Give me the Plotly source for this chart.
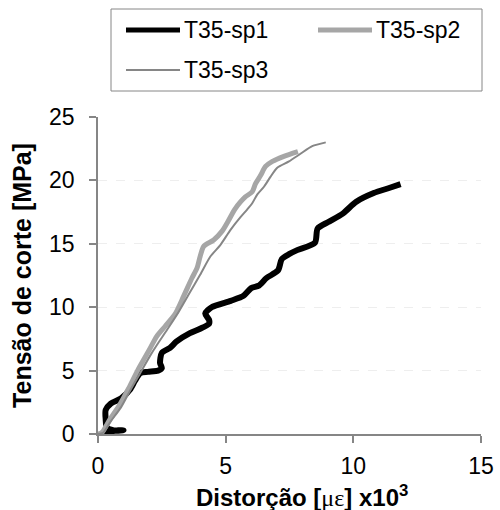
import plotly.graph_objects as go

# ---- data ----
sp1_x = [0.1, 0.4, 0.8, 1.0, 0.7, 0.35, 0.3, 0.3, 0.5, 0.9, 1.25, 1.45, 1.65, 1.95, 2.35, 2.5, 2.43,
         2.5, 2.82, 3.08, 3.6, 4.0, 4.35, 4.35, 4.2, 4.45, 5.2, 5.7, 6.0, 6.3, 6.6, 7.05, 7.2, 7.5,
         7.8, 8.5, 8.6, 9.0, 9.6, 10.1, 10.8, 11.4, 11.85]
sp1_y = [0.0, 0.15, 0.3, 0.3, 0.25, 0.5, 1.2, 1.9, 2.4, 2.8, 3.5, 4.2, 4.8, 4.9, 5.0, 5.2, 5.6,
         6.4, 6.8, 7.3, 7.95, 8.3, 8.7, 9.0, 9.5, 10.0, 10.5, 10.9, 11.5, 11.7, 12.3, 12.9, 13.8, 14.2,
         14.5, 15.1, 16.2, 16.7, 17.4, 18.3, 19.0, 19.4, 19.7]

sp2_x = [0.0, 0.15, 0.45, 0.85, 1.2, 1.55, 2.0, 2.3, 2.63, 3.03, 3.35, 3.68, 3.88, 4.0, 4.14, 4.53,
         4.86, 5.1, 5.35, 5.58, 5.77, 6.04, 6.17, 6.37, 6.56, 6.83, 7.28, 7.83]
sp2_y = [0.0, 0.1, 1.1, 2.3, 3.6, 5.0, 6.6, 7.7, 8.5, 9.5, 10.85, 12.3, 13.1, 14.0, 14.8, 15.3,
         16.0, 16.8, 17.7, 18.3, 18.7, 19.1, 19.75, 20.4, 21.1, 21.5, 21.9, 22.27]

sp3_x = [0.0, 0.2, 0.5, 0.9, 1.25, 1.65, 2.05, 2.3, 2.7, 3.09, 3.55, 4.0, 4.4, 4.79, 5.19, 5.58,
         5.84, 6.04, 6.24, 6.5, 6.76, 7.02, 7.48, 7.93, 8.39, 8.92]
sp3_y = [0.0, 0.1, 1.0, 2.1, 3.4, 4.8, 6.2, 7.0, 8.2, 9.4, 11.0, 12.55, 14.0, 14.9, 16.1, 17.1,
         17.7, 18.2, 18.9, 19.5, 20.3, 21.0, 21.5, 22.1, 22.7, 23.0]

series_names = ["T35-sp1", "T35-sp2", "T35-sp3"]
x_ticks = [0, 5, 10, 15]
y_ticks = [0, 5, 10, 15, 20, 25]
x_title = "Distorção [<span style=\"font-family:'Liberation Serif';font-weight:normal\">με</span>] x10<sup>3</sup>"
y_title = "Tensão de corte [MPa]"

colors = ["#000000", "#A6A6A6", "#868686"]
widths = [6, 5, 2]
FONT = "Liberation Sans, Arial, sans-serif"
AXIS = "#868686"

fig = go.Figure()
for name, xs, ys, c, w in zip(series_names, [sp1_x, sp2_x, sp3_x], [sp1_y, sp2_y, sp3_y], colors, widths):
    fig.add_trace(go.Scatter(x=xs, y=ys, mode="lines", name=name, showlegend=False,
                             line=dict(color=c, width=w, shape="spline", smoothing=0.7)))

fig.update_layout(
    width=500, height=510,
    margin=dict(l=98, r=19, t=117, b=76),
    paper_bgcolor="white", plot_bgcolor="white",
    font=dict(family=FONT, size=22, color="black"),
)
fig.update_xaxes(range=[0, 15], tickvals=x_ticks, showgrid=False, zeroline=False,
                 showline=True, linecolor=AXIS, linewidth=1.5, automargin=False,
                 ticks="outside", ticklen=7, tickcolor=AXIS, tickwidth=1.5,
                 tickfont=dict(size=23), ticklabelstandoff=4)
fig.update_yaxes(range=[0, 25], tickvals=y_ticks, showgrid=True, gridcolor="#EEEEEE",
                 griddash="dash", gridwidth=1, zeroline=False,
                 showline=True, linecolor=AXIS, linewidth=1.5, automargin=False,
                 ticks="outside", ticklen=7, tickcolor=AXIS, tickwidth=1.5,
                 tickfont=dict(size=23), ticklabelstandoff=10,
                 title=dict(text=y_title, font=dict(size=25, weight="bold"), standoff=10))

# ---- helpers: pixel position -> paper coordinates ----
def px_x(p):
    return (p - 98) / 383.0

def px_y(p):
    return (434 - p) / 317.0

# x-axis title (placed as annotation for exact position)
fig.add_annotation(xref="paper", yref="paper", x=px_x(302), y=px_y(496),
                   xanchor="center", yanchor="middle", showarrow=False,
                   text=x_title, font=dict(size=24, weight="bold", color="black", family=FONT))

# ---- manual legend box ----
fig.add_shape(type="rect", xref="paper", yref="paper",
              x0=px_x(111), x1=px_x(482), y0=px_y(91), y1=px_y(9),
              line=dict(color=AXIS, width=1), fillcolor="white", layer="above")
legend_pos = [(126, 30), (318, 30), (126, 70)]
leg_widths = [5, 5, 2]
for name, (lx, ly), c, w in zip(series_names, legend_pos, colors, leg_widths):
    fig.add_shape(type="line", xref="paper", yref="paper",
                  x0=px_x(lx), x1=px_x(lx + 54), y0=px_y(ly), y1=px_y(ly),
                  line=dict(color=c, width=w))
    fig.add_annotation(xref="paper", yref="paper", x=px_x(lx + 56), y=px_y(ly),
                       xanchor="left", yanchor="middle", showarrow=False,
                       text=name, font=dict(size=23, color="black", family=FONT))

fig.write_html("out.html")
